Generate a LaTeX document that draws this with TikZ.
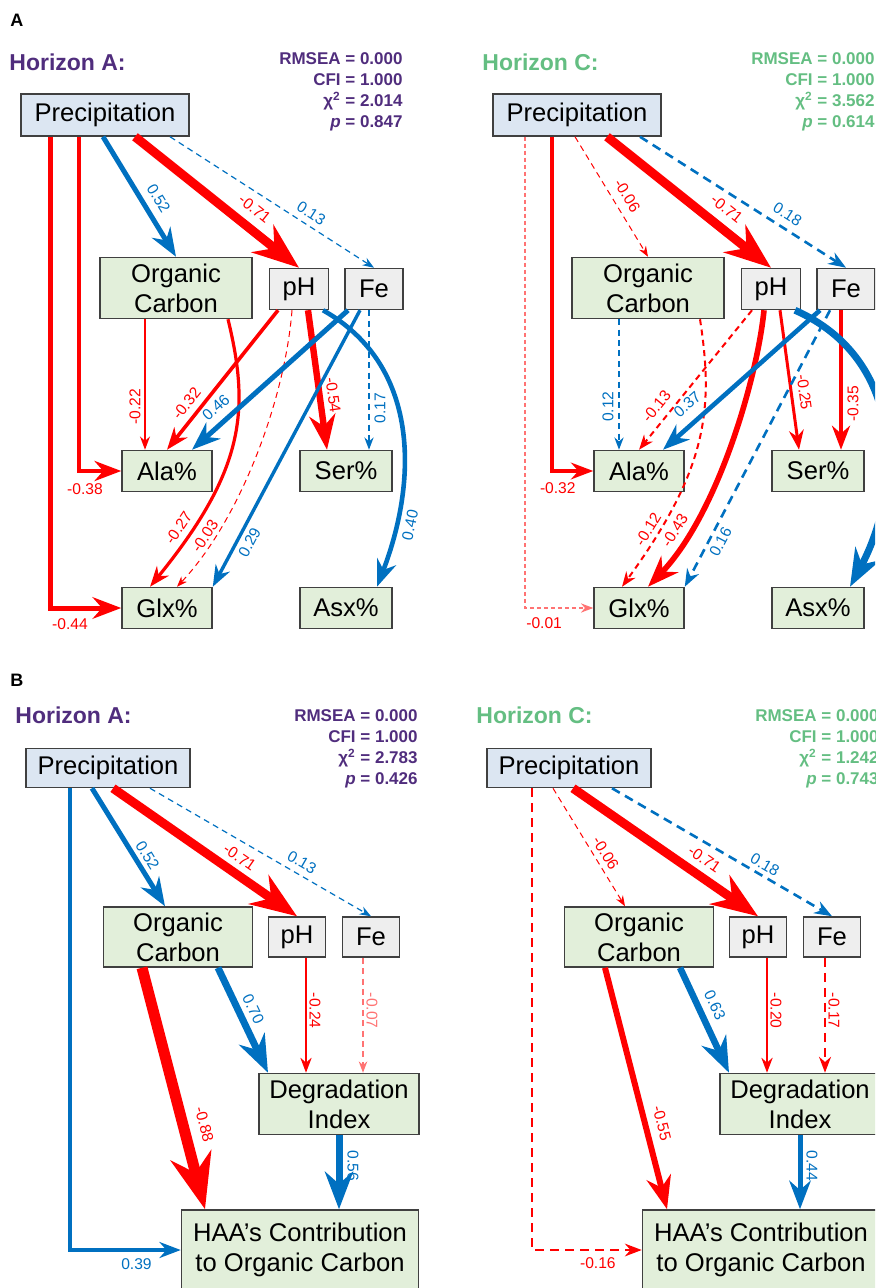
\documentclass[tikz,border=0pt]{standalone}
\usepackage{fontspec}
\setmainfont{Liberation Sans}
\usepackage{tikz}
\usetikzlibrary{arrows.meta, positioning}

\definecolor{semred}{RGB}{255,0,0}
\definecolor{semblue}{RGB}{0,112,192}
\definecolor{sempink}{RGB}{255,115,115}
\definecolor{sempurple}{RGB}{80,45,125}
\definecolor{semgreen}{RGB}{100,190,130}
\definecolor{semline}{RGB}{64,64,64}
\definecolor{semprecip}{RGB}{220,230,242}
\definecolor{semvar}{RGB}{226,239,218}
\definecolor{semsoil}{RGB}{238,238,238}

\begin{document}
\begin{tikzpicture}[
  x=0.5pt, y=-0.5pt,
  >={Stealth},
  box/.style={draw=semline, line width=0.75pt, inner sep=0pt, align=center, font=\fontsize{12.8}{15}\selectfont},
  precip/.style={box, fill=semprecip},
  var/.style={box, fill=semvar},
  soil/.style={box, fill=semsoil},
  blueln/.style={->, draw=semblue, text=semblue},
  redln/.style={->, draw=semred, text=semred},
  pinkln/.style={->, draw=sempink, text=sempink},
  wt/.style={line width=#1},
  dsh/.style={dash pattern=on 3pt off 2.2pt},
  dshl/.style={dash pattern=on 4.5pt off 3pt},
  lab/.style={font=\fontsize{7.8}{8}\selectfont, sloped, inner xsep=0.5pt, inner ysep=#1},
  lab/.default=2pt,
  labu/.style={font=\fontsize{7.8}{8}\selectfont, rotate=90, inner sep=0pt},
  labd/.style={font=\fontsize{7.8}{8}\selectfont, rotate=-90, inner sep=0pt},
  horizon/.style={font=\fontsize{11.5}{13}\selectfont\bfseries, anchor=west, inner sep=0pt},
  stats/.style={font=\fontsize{8.5}{10.5}\selectfont\bfseries, align=right, anchor=north east, inner sep=0pt},
  panel/.style={font=\fontsize{9}{10}\selectfont\bfseries, anchor=west, inner sep=0pt}
]
\useasboundingbox (0,0) rectangle (875,1288);
\clip (0,0) rectangle (875,1288);

% Panel letters
\node[panel] (lblA) at (10,20) {A};
\node[panel] (lblB) at (10,680) {B};

% Titles and fit indices
\node[horizon, sempurple] (hz1) at (9,62) {Horizon A:};
\node[stats, sempurple] (fit1) at (403,52) {RMSEA = 0.000\\CFI = 1.000\\χ\textsuperscript{2} = 2.014\\\textit{p} = 0.847};
\node[horizon, semgreen] (hz2) at (482,62) {Horizon C:};
\node[stats, semgreen] (fit2) at (875,52) {RMSEA = 0.000\\CFI = 1.000\\χ\textsuperscript{2} = 3.562\\\textit{p} = 0.614};
\node[horizon, sempurple] (hz3) at (15,715) {Horizon A:};
\node[stats, sempurple] (fit3) at (418,709) {RMSEA = 0.000\\CFI = 1.000\\χ\textsuperscript{2} = 2.783\\\textit{p} = 0.426};
\node[horizon, semgreen] (hz4) at (476,715) {Horizon C:};
\node[stats, semgreen] (fit4) at (879,709) {RMSEA = 0.000\\CFI = 1.000\\χ\textsuperscript{2} = 1.242\\\textit{p} = 0.743};

% Amino acid models
\foreach \n/\dx in {1/0, 2/472} {
  \begin{scope}[shift={(\dx,0)}]
  \node[precip, minimum width=84pt, minimum height=21pt] (pre\n) at (105,115) {Precipitation};
  \node[var, minimum width=76pt, minimum height=30.5pt] (oc\n) at (176,288) {Organic\\Carbon};
  \node[soil, minimum width=29.5pt, minimum height=20.5pt] (ph\n) at (299,289) {pH};
  \node[soil, minimum width=29pt, minimum height=20.5pt] (fe\n) at (374,289) {Fe};
  \node[var, minimum width=45pt, minimum height=20.5pt] (ala\n) at (167,471) {Ala\%};
  \node[var, minimum width=46pt, minimum height=20.5pt] (ser\n) at (346,471) {Ser\%};
  \node[var, minimum width=45pt, minimum height=20.5pt] (glx\n) at (167,608) {Glx\%};
  \node[var, minimum width=46pt, minimum height=20.5pt] (asx\n) at (346,608) {Asx\%};
  \end{scope}
}

% Horizon A paths
\draw[redln, wt=2.5pt] ([shift={(-55,0)}]pre1.south) |- (glx1) node[lab=4.2pt, pos=.64, below] {-0.44};
\draw[redln, wt=2.3pt] ([shift={(-26,0)}]pre1.south) |- (ala1) node[lab=5pt, pos=.57, below] {-0.38};
\draw[blueln, wt=2.5pt] ([shift={(-2,0)}]pre1.south) -- (oc1.north) node[lab=3.7pt, pos=.58, above] {0.52};
\draw[redln, wt=4.5pt] ([shift={(30,0)}]pre1.south) -- (ph1.north) node[lab=4.2pt, pos=.66, above] {-0.71};
\draw[blueln, wt=0.6pt, dsh] ([shift={(65,0)}]pre1.south) -- (fe1.north) node[lab=3pt, pos=.66, above] {0.13};
\draw[redln, wt=0.8pt] ([shift={(-31,0)}]oc1.south) -- ([shift={(-22,0)}]ala1.north) node[xshift=-5pt, labu, pos=.67] {-0.22};
\draw[redln, wt=1.6pt] ([shift={(52,0)}]oc1.south) .. controls (250,410) and (245,470) .. ([shift={(-17,0)}]glx1.north) node[lab=2.7pt, pos=.84, above] {-0.27};
\draw[redln, wt=1.8pt] ([shift={(-21,0)}]ph1.south) -- (ala1.north) node[lab=3.1pt, pos=.73, above] {-0.32};
\draw[redln, wt=0.5pt, dsh] ([shift={(-7,0)}]ph1.south) .. controls (285,400) and (240,520) .. ([shift={(10,0)}]glx1.north) node[lab=1.5pt, pos=.8, above] {-0.03};
\draw[redln, wt=3.2pt] ([shift={(9,0)}]ph1.south) -- ([shift={(-19,0)}]ser1.north) node[lab=2.4pt, pos=.62, above] {-0.54};
\draw[blueln, wt=2.5pt] ([shift={(-26,0)}]fe1.south) -- ([shift={(25,0)}]ala1.north) node[lab=3.8pt, pos=.78, above] {0.46};
\draw[blueln, wt=1.7pt] ([shift={(-14,0)}]fe1.south) -- (glx1.north east) node[lab=2.2pt, pos=.82, below] {0.29};
\draw[blueln, wt=0.7pt, dsh] ([shift={(-5,0)}]fe1.south) -- ([shift={(23,0)}]ser1.north) node[xshift=5.5pt, labu, pos=.7] {0.17};
\draw[blueln, wt=2.3pt] ([shift={(24,0)}]ph1.south) .. controls (420,365) and (418,480) .. ([shift={(31,0)}]asx1.north) node[lab=3pt, pos=.8, below] {0.40};

% Horizon C paths
\begin{scope}[shift={(472,0)}]
\draw[pinkln, wt=0.7pt, dash pattern=on 2pt off 1.5pt] ([shift={(-52,0)}]pre2.south) |- (glx2) node[lab=4.7pt, pos=.64, below, text=semred] {-0.01};
\draw[redln, wt=1.8pt] ([shift={(-25,0)}]pre2.south) |- (ala2) node[lab=5pt, pos=.57, below] {-0.32};
\draw[redln, wt=0.5pt, dsh] ([shift={(-2,0)}]pre2.south) -- (oc2.north) node[lab=4pt, pos=.55, above] {-0.06};
\draw[redln, wt=4.5pt] ([shift={(30,0)}]pre2.south) -- (ph2.north) node[lab=4.2pt, pos=.66, above] {-0.71};
\draw[blueln, wt=1.3pt, dshl] ([shift={(63,0)}]pre2.south) -- (fe2.north) node[lab=3.5pt, pos=.68, above] {0.18};
\draw[blueln, wt=0.7pt, dsh] ([shift={(-29,0)}]oc2.south) -- ([shift={(-20,0)}]ala2.north) node[xshift=-5.5pt, labu, pos=.67] {0.12};
\draw[redln, wt=1pt, dsh] ([shift={(52,0)}]oc2.south) .. controls (242,410) and (235,470) .. ([shift={(-17,0)}]glx2.north) node[lab=2pt, pos=.84, above] {-0.12};
\draw[redln, wt=1pt, dsh] ([shift={(-19,0)}]ph2.south) -- (ala2.north) node[lab=3.7pt, pos=.75, above] {-0.13};
\draw[redln, wt=2.8pt] ([shift={(-7,0)}]ph2.south) .. controls (285,380) and (245,515) .. ([shift={(9,0)}]glx2.north) node[lab=2.4pt, pos=.8, above] {-0.43};
\draw[redln, wt=1.5pt] ([shift={(9,0)}]ph2.south) -- ([shift={(-19,0)}]ser2.north) node[lab=3pt, pos=.6, above] {-0.25};
\draw[blueln, wt=2.3pt] ([shift={(-26,0)}]fe2.south) -- ([shift={(24,0)}]ala2.north) node[lab=5pt, pos=.77, above] {0.37};
\draw[blueln, wt=1.3pt, dshl] ([shift={(-16,0)}]fe2.south) -- (glx2.north east) node[lab=2pt, pos=.82, below] {0.16};
\draw[redln, wt=2pt] ([shift={(-5,0)}]fe2.south) -- ([shift={(23,0)}]ser2.north) node[xshift=6pt, labu, pos=.67] {-0.35};
\draw[blueln, wt=3.5pt] ([shift={(24,0)}]ph2.south) .. controls (435,360) and (430,490) .. ([shift={(32,0)}]asx2.north) node[lab=3pt, pos=.8, below] {0.58};
\end{scope}

% Degradation models
\foreach \n/\dx in {3/0, 4/461} {
  \begin{scope}[shift={(\dx,0)}]
  \node[precip, minimum width=82pt, minimum height=19.5pt] (pre\n) at (108,768) {Precipitation};
  \node[var, minimum width=74.5pt, minimum height=30pt] (oc\n) at (178,937) {Organic\\Carbon};
  \node[soil, minimum width=28.5pt, minimum height=20pt] (ph\n) at (297,937) {pH};
  \node[soil, minimum width=28.5pt, minimum height=20pt] (fe\n) at (371,937) {Fe};
  \node[var, minimum width=80pt, minimum height=30.5pt] (di\n) at (339,1104) {Degradation\\Index};
  \node[var, minimum width=118.5pt, minimum height=40pt] (haa\n) at (300,1250) {HAA’s Contribution\\to Organic Carbon};
  \end{scope}
}

% Horizon A paths
\draw[blueln, wt=1.7pt] ([shift={(-38,0)}]pre3.south) |- (haa3) node[lab=3.2pt, pos=.8, below] {0.39};
\draw[blueln, wt=2.5pt] ([shift={(-16,0)}]pre3.south) -- ([shift={(-13,0)}]oc3.north) node[lab=2pt, pos=.62, above] {0.52};
\draw[redln, wt=4.5pt] ([shift={(5,0)}]pre3.south) -- (ph3.north) node[lab=2.8pt, pos=.64, above] {-0.71};
\draw[blueln, wt=0.6pt, dsh] ([shift={(42,0)}]pre3.south) -- (fe3.north) node[lab=3pt, pos=.66, above] {0.13};
\draw[redln, wt=5.5pt] ([shift={(-36,0)}]oc3.south) -- ([shift={(-95,0)}]haa3.north) node[lab=4.9pt, pos=.67, above] {-0.88};
\draw[blueln, wt=3.5pt] ([shift={(40,0)}]oc3.south) -- ([shift={(-71,0)}]di3.north) node[lab=2.6pt, pos=.45, above] {0.70};
\draw[redln, wt=1pt] ([shift={(9,0)}]ph3.south) -- ([shift={(-33,0)}]di3.north) node[xshift=4.5pt, labd, pos=.46] {-0.24};
\draw[pinkln, wt=0.6pt, dsh] ([shift={(-8,0)}]fe3.south) -- ([shift={(24,0)}]di3.north) node[xshift=4.5pt, labd, pos=.46] {-0.07};
\draw[blueln, wt=3.5pt] (di3.south) -- ([shift={(39,0)}]haa3.north) node[xshift=7pt, labd, pos=.41] {0.56};

% Horizon C paths
\draw[redln, wt=1.2pt, dshl] ([shift={(-37,0)}]pre4.south) |- (haa4) node[lab=3.2pt, pos=.8, below] {-0.16};
\draw[redln, wt=0.5pt, dsh] ([shift={(-16,0)}]pre4.south) -- ([shift={(-14,0)}]oc4.north) node[lab=2.5pt, pos=.6, above] {-0.06};
\draw[redln, wt=4.5pt] ([shift={(4,0)}]pre4.south) -- (ph4.north) node[lab=3.2pt, pos=.66, above] {-0.71};
\draw[blueln, wt=1.3pt, dshl] ([shift={(43,0)}]pre4.south) -- (fe4.north) node[lab=2pt, pos=.67, above] {0.18};
\draw[redln, wt=3pt] ([shift={(-34,0)}]oc4.south) -- ([shift={(-94,0)}]haa4.north) node[lab=4pt, pos=.66, above] {-0.55};
\draw[blueln, wt=3.3pt] ([shift={(41,0)}]oc4.south) -- ([shift={(-71,0)}]di4.north) node[lab=3.5pt, pos=.42, above] {0.63};
\draw[redln, wt=1pt] ([shift={(9,0)}]ph4.south) -- ([shift={(-33,0)}]di4.north) node[xshift=4.5pt, labd, pos=.46] {-0.20};
\draw[redln, wt=1.1pt, dshl] ([shift={(-7,0)}]fe4.south) -- ([shift={(25,0)}]di4.north) node[xshift=4.5pt, labd, pos=.46] {-0.17};
\draw[blueln, wt=2.5pt] (di4.south) -- ([shift={(39,0)}]haa4.north) node[xshift=6pt, labd, pos=.41] {0.44};

\end{tikzpicture}
\end{document}
